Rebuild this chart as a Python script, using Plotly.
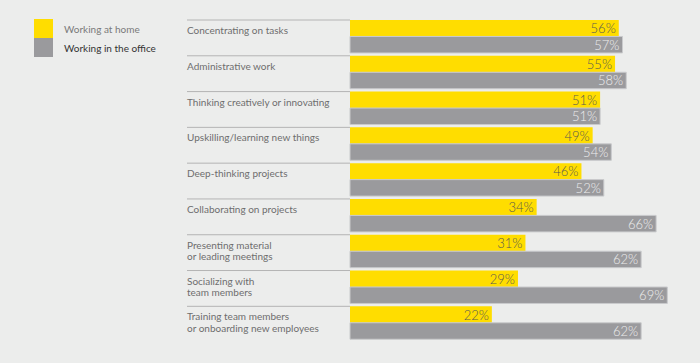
import plotly.graph_objects as go

categories = [
    "Concentrating on tasks",
    "Administrative work",
    "Thinking creatively or innovating",
    "Upskilling/learning new things",
    "Deep-thinking projects",
    "Collaborating on projects",
    "Presenting material<br>or leading meetings",
    "Socializing with<br>team members",
    "Training team members<br>or onboarding new employees",
]
home = [56, 55, 51, 49, 46, 34, 31, 29, 22]
office = [57, 58, 51, 54, 52, 66, 62, 69, 62]
series_names = ["Working at home", "Working in the office"]

YELLOW = "#FFDD00"
GRAY = "#9A9A9D"
BG = "#ECEDEC"
FONT = "Lato"

W, H = 700, 363
BASE = -16          # visual start offset of bars (style)
PX_PER_UNIT = 3.733
BAR_START_PX = 350
x0 = BASE - BAR_START_PX / PX_PER_UNIT
x1 = x0 + W / PX_PER_UNIT

ROW_PX = 35.79
y_top = -0.46 - 20 / ROW_PX
y_bot = y_top + H / ROW_PX

idx = list(range(len(categories)))

fig = go.Figure()
fig.add_trace(go.Bar(
    y=idx, x=[v - BASE for v in home], base=BASE, orientation="h",
    name=series_names[0], marker=dict(color=YELLOW, line=dict(width=0)),
    text=[f"{v}%" for v in home], textposition="inside", insidetextanchor="end",
    textfont=dict(family=FONT, size=13, color="#5A5A50", weight=300),
    hoverinfo="skip", offsetgroup="a",
))
fig.add_trace(go.Bar(
    y=idx, x=[v - BASE for v in office], base=BASE, orientation="h",
    name=series_names[1], marker=dict(color=GRAY, line=dict(width=1, color="#C9CACC")),
    text=[f"{v}%" for v in office], textposition="inside", insidetextanchor="end",
    textfont=dict(family=FONT, size=13, color="#EDEDED", weight=300),
    hoverinfo="skip", offsetgroup="b",
))

shapes = []
annotations = []
for i, c in enumerate(categories):
    shapes.append(dict(type="line", xref="paper", yref="y",
                       x0=187 / W, x1=BAR_START_PX / W, y0=i - 0.46, y1=i - 0.46,
                       line=dict(color="#B4B4B4", width=1)))
    for k, part in enumerate(c.split("<br>")):
        annotations.append(dict(xref="paper", yref="y", x=185 / W, y=i - 0.46,
                                xanchor="left", yanchor="top", yshift=-2 - 11.5 * k,
                                align="left", text=part, showarrow=False,
                                font=dict(family=FONT, size=10, color="#6E6E6E")))

# legend swatches
shapes.append(dict(type="rect", xref="paper", yref="paper",
                   x0=34 / W, x1=53 / W, y0=1 - 38 / H, y1=1 - 19 / H,
                   fillcolor=YELLOW, line=dict(width=0)))
shapes.append(dict(type="rect", xref="paper", yref="paper",
                   x0=34 / W, x1=53 / W, y0=1 - 57 / H, y1=1 - 38 / H,
                   fillcolor=GRAY, line=dict(width=0)))
annotations.append(dict(xref="paper", yref="paper", x=62 / W, y=1 - 29 / H,
                        xanchor="left", yanchor="middle", text=series_names[0],
                        showarrow=False, font=dict(family=FONT, size=10, color="#7A7A7A")))
annotations.append(dict(xref="paper", yref="paper", x=62 / W, y=1 - 48 / H,
                        xanchor="left", yanchor="middle", text=series_names[1],
                        showarrow=False, font=dict(family=FONT, size=10, color="#333333")))

fig.update_layout(
    width=W, height=H,
    margin=dict(l=0, r=0, t=0, b=0),
    paper_bgcolor=BG, plot_bgcolor=BG,
    barmode="group", bargap=0.08, bargroupgap=0,
    showlegend=False,
    xaxis=dict(range=[x0, x1], visible=False, fixedrange=True),
    yaxis=dict(range=[y_bot, y_top], visible=False, fixedrange=True),
    shapes=shapes, annotations=annotations,
    uniformtext=dict(minsize=13, mode="show"),
)

fig.write_html(
    "out.html",
    config={"displayModeBar": False},
    post_script="document.body.style.margin='0';document.body.style.overflow='hidden';",
)
